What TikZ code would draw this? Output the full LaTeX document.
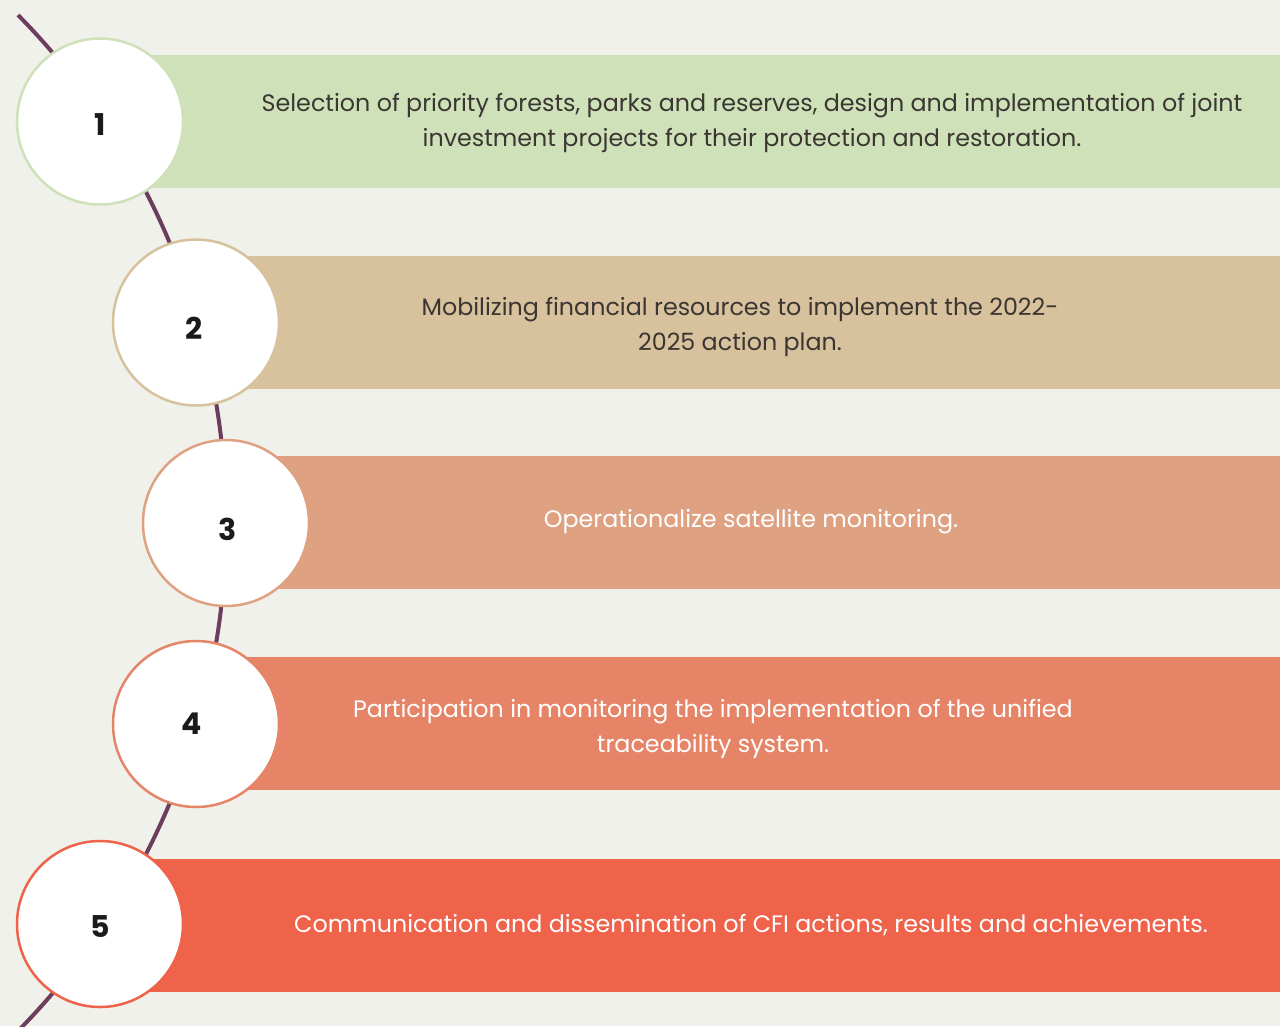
\documentclass[tikz,border=0pt]{standalone}
\usepackage{fontspec}
\setmainfont{Poppins}
\definecolor{bgc}{RGB}{241,241,236}
\definecolor{bA}{RGB}{207,225,185}
\definecolor{bB}{RGB}{215,194,157}
\definecolor{bC}{RGB}{222,161,130}
\definecolor{bD}{RGB}{230,132,103}
\definecolor{bE}{RGB}{239,99,75}
\definecolor{linec}{RGB}{109,61,94}
\definecolor{darktxt}{RGB}{59,54,50}
\definecolor{numc}{RGB}{28,26,26}
\tikzset{
  band/.style={rectangle, inner sep=0pt, minimum width=1200, minimum height=133, anchor=west},
  circ/.style={circle, fill=white, line width=2.5pt, minimum size=166, inner sep=0pt},
  num/.style={font=\fontsize{30}{30}\selectfont\bfseries, text=numc, inner sep=0pt},
  txt/.style={align=center, inner sep=0pt, font=\fontsize{23.8}{35}\selectfont},
  spine/.style={draw=linec, line width=4pt}
}
\begin{document}
\begin{tikzpicture}[x=1pt,y=-1pt]
\useasboundingbox (0,0) rectangle (1280,1026);
\fill[bgc] (0,0) rectangle (1280,1026);
% bands
\node[band, fill=bA] (b1) at (100,121.5) {};
\node[band, fill=bB] (b2) at (196,322.5) {};
\node[band, fill=bC] (b3) at (226,522.5) {};
\node[band, fill=bD] (b4) at (196,723.5) {};
\node[band, fill=bE] (b5) at (100,925) {};
% spine
\coordinate (top) at (18,15);
\begin{scope}
\clip (0,0) rectangle (1280,1026);
\draw[spine] (top) arc[start angle=-44.56, end angle=47, radius=724];
\end{scope}
% circles
\node[circ, draw=bA] (c1) at (100,121.5) {};
\node[circ, draw=bB] (c2) at (196,322.5) {};
\node[circ, draw=bC] (c3) at (226,523) {};
\node[circ, draw=bD] (c4) at (196,724) {};
\node[circ, draw=bE] (c5) at (100,924) {};
\node[num] (n1) at ([yshift=-3pt]c1.center) {1};
\node[num] (n2) at ([yshift=-6pt,xshift=-2pt]c2.center) {2};
\node[num] (n3) at ([yshift=-6pt,xshift=2pt]c3.center) {3};
\node[num] (n4) at ([xshift=-4pt]c4.center) {4};
\node[num] (n5) at ([yshift=-3pt]c5.center) {5};
% texts
\node[txt, text=darktxt] (t1) at (752,123) {Selection of priority forests, parks and reserves, design and implementation of joint\\investment projects for their protection and restoration.};
\node[txt, text=darktxt] (t2) at (740,327) {Mobilizing financial resources to implement the 2022-\\2025 action plan.};
\node[txt, text=white] (t3) at (751,521.5) {Operationalize satellite monitoring.};
\node[txt, text=white] (t4) at (713,728.5) {Participation in monitoring the implementation of the unified\\traceability system.};
\node[txt, text=white] (t5) at (751,925.5) {Communication and dissemination of CFI actions, results and achievements.};
\end{tikzpicture}
\end{document}
